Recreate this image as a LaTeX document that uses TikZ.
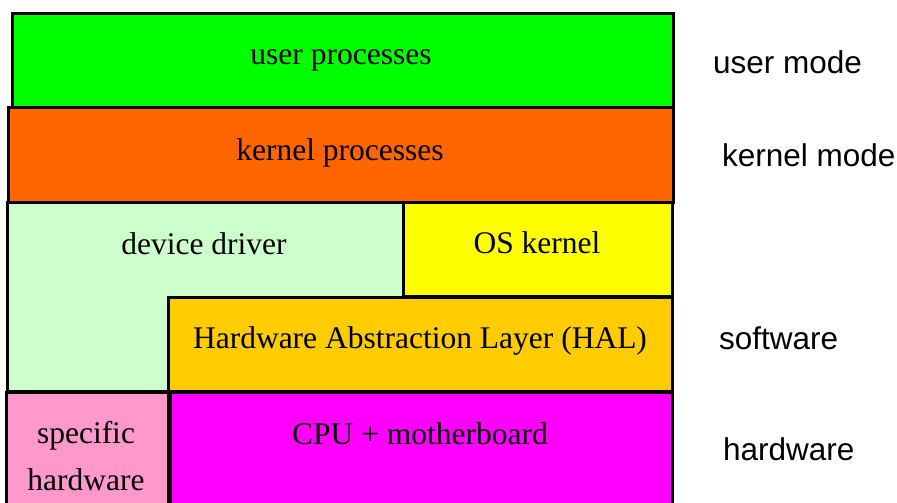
\documentclass[tikz,border=0pt]{standalone}
\usepackage{fontspec}
\setmainfont{Liberation Serif}
\newfontfamily\arialfont{Liberation Sans}
\definecolor{cuser}{HTML}{00FF00}
\definecolor{ckernel}{HTML}{FF6600}
\definecolor{cdriver}{HTML}{CCFFCC}
\definecolor{cos}{HTML}{FFFF00}
\definecolor{chal}{HTML}{FFCC00}
\definecolor{cspec}{HTML}{FF99CC}
\definecolor{ccpu}{HTML}{FF00FF}
\begin{document}
\begin{tikzpicture}[x=1pt,y=-1pt,
  layer/.style={draw=black,line width=3pt,line join=miter},
  boxtext/.style={anchor=base,inner sep=0pt,font=\fontsize{31.5}{38}\selectfont},
  sidetext/.style={anchor=base west,inner sep=0pt,font=\arialfont\fontsize{31.5}{38}\selectfont}]
\useasboundingbox (0,0) rectangle (897,503);
\clip (0,0) rectangle (897,503);
% layers
\path[layer,fill=cuser] (12,14) rectangle (673,107);
\path[layer,fill=ckernel] (8,107) rectangle (673,202);
\path[layer,fill=cdriver] (7,202) -- (403,202) -- (403,297) -- (168,297) -- (168,391) -- (7,391) -- cycle;
\path[layer,fill=cos] (403,202) rectangle (672,296);
\path[layer,fill=chal] (168,297) rectangle (672,391);
\path[layer,fill=cspec] (6,392) rectangle (168,508);
\path[layer,fill=ccpu] (170,392) rectangle (672,508);
% box labels
\node[boxtext] (tuser) at (341,65) {user processes};
\node[boxtext] (tkernel) at (340,160) {kernel processes};
\node[boxtext] (tdriver) at (204,254) {device driver};
\node[boxtext] (tos) at (537,253) {OS kernel};
\node[boxtext] (thal) at (420,348) {Hardware Abstraction Layer (HAL)};
\node[boxtext] (tcpu) at (420,444) {CPU + motherboard};
\node[boxtext] (tspec1) at (86,443) {specific};
\node[boxtext] (tspec2) at (86,490) {hardware};
% side labels
\node[sidetext] (muser) at (713,74) {user mode};
\node[sidetext] (mkernel) at (722,166) {kernel mode};
\node[sidetext] (msoft) at (719,349) {software};
\node[sidetext] (mhard) at (723,460) {hardware};
\end{tikzpicture}
\end{document}
